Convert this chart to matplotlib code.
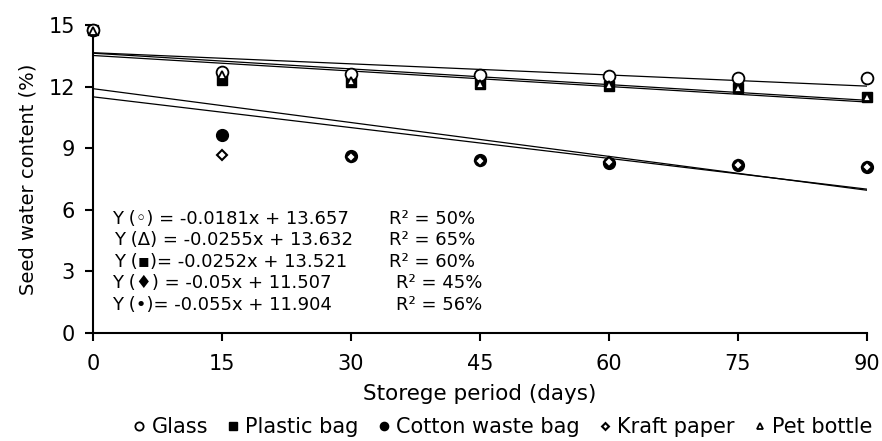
import matplotlib
matplotlib.use('Agg')
import matplotlib.pyplot as plt
import numpy as np

plt.rcParams['font.family'] = ['DejaVu Sans']

# storage period (days)
days = [0, 15, 30, 45, 60, 75, 90]

# seed water content (%)
glass = [14.75, 12.7, 12.6, 12.58, 12.52, 12.43, 12.43]
plastic = [14.75, 12.35, 12.25, 12.12, 12.03, 11.92, 11.52]
cotton = [14.75, 9.65, 8.6, 8.42, 8.28, 8.2, 8.08]
kraft = [14.7, 8.65, 8.55, 8.4, 8.35, 8.2, 8.1]
pet = [14.7, 12.55, 12.3, 12.15, 12.07, 11.92, 11.52]

# fitted lines (slope, intercept) as printed
fits = [(-0.0181, 13.657), (-0.0255, 13.632), (-0.0252, 13.521),
        (-0.05, 11.507), (-0.055, 11.904)]

eq_left = ['Y (◦) = -0.0181x + 13.657',
           'Y (Δ) = -0.0255x + 13.632',
           'Y (▪)= -0.0252x + 13.521',
           'Y (♦) = -0.05x + 11.507',
           'Y (•)= -0.055x + 11.904']
eq_right = ['R² = 50%', 'R² = 65%', 'R² = 60%', 'R² = 45%', 'R² = 56%']

fig = plt.figure(figsize=(8.82, 4.41), dpi=100)
ax = fig.add_axes([0.1054, 0.245, 0.8776, 0.698])

xx = np.array([0, 90])
for a, b in fits:
    ax.plot(xx, a * xx + b, color='black', lw=0.9, zorder=2)

ms = 8.5
ax.plot(days, plastic, 's', ms=7.5, mfc='black', mec='black', clip_on=False, zorder=3, label='Plastic bag')
ax.plot(days, cotton, 'o', ms=ms, mfc='black', mec='black', clip_on=False, zorder=3, label='Cotton waste bag')
ax.plot(days, kraft, 'D', ms=5, mfc='white', mec='black', mew=1.5, clip_on=False, zorder=4, label='Kraft paper')
ax.plot(days, glass, 'o', ms=ms, mfc='white', mec='black', mew=1.3, clip_on=False, zorder=4, label='Glass')
ax.plot(days, pet, '^', ms=6, mfc='white', mec='black', mew=1.3, clip_on=False, zorder=5, label='Pet bottle')

ax.set_xlim(0, 90)
ax.set_ylim(0, 15)
ax.set_xticks(days)
ax.set_yticks([0, 3, 6, 9, 12, 15])
for s in ['top', 'right']:
    ax.spines[s].set_visible(False)
for s in ['left', 'bottom']:
    ax.spines[s].set_linewidth(1.5)
ax.tick_params(direction='out', length=6, width=1.5, labelsize=15, pad=7)
ax.tick_params(axis='x', pad=9)
ax.set_xlabel('Storege period (days)', fontsize=15.5, labelpad=7)
ax.set_ylabel('Seed water content (%)', fontsize=14, labelpad=8)

for i in range(5):
    y = 0.37 - i * 0.0695
    ax.text(0.024 + (0.003 if i in (1, 2) else 0), y, eq_left[i], transform=ax.transAxes,
            fontsize=13, va='center')
    ax.text(0.383 + (0.008 if i >= 3 else 0), y, eq_right[i], transform=ax.transAxes,
            fontsize=13, va='center')

h, l = ax.get_legend_handles_labels()
order = [3, 0, 1, 2, 4]
leg = fig.legend([h[i] for i in order], [l[i] for i in order], loc='center',
                 bbox_to_anchor=(0.57, 0.032), ncol=5, frameon=False, fontsize=15,
                 handlelength=0.6, handletextpad=0.3, columnspacing=0.9, markerscale=0.7)

plt.savefig('out.png', dpi=100)
